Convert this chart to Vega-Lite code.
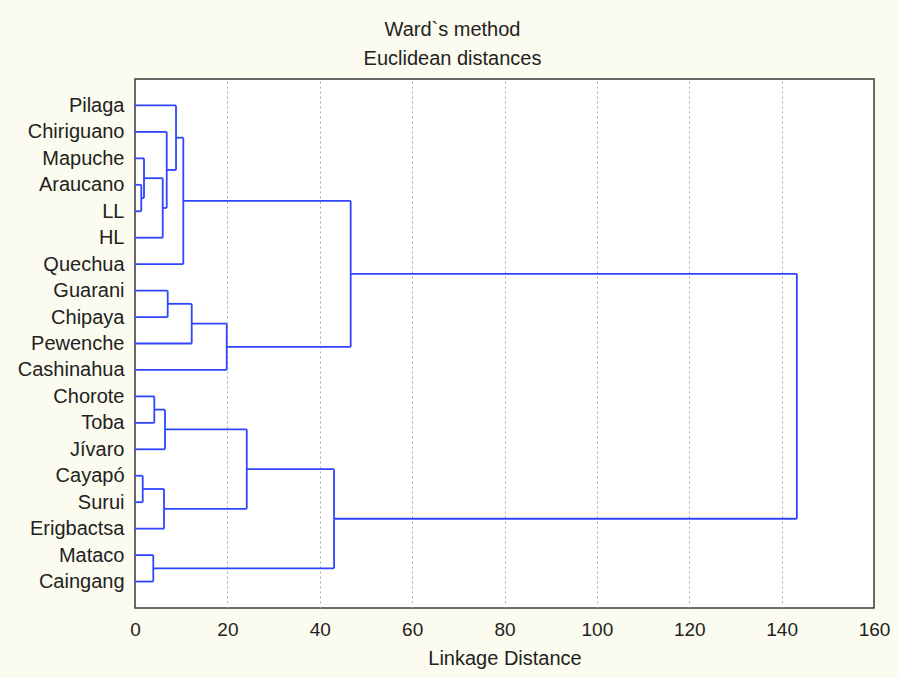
{
  "$schema": "https://vega.github.io/schema/vega-lite/v6.json",
  "autosize": {"type": "none"},
  "padding": {"left": 135, "top": 79, "right": 25, "bottom": 70},
  "width": 739,
  "height": 529,
  "background": "#fcfbef",
  "title": {
    "text": ["Ward`s method", "Euclidean distances"],
    "font": "Liberation Sans",
    "fontSize": 20,
    "fontWeight": "normal",
    "color": "#222222",
    "lineHeight": 29,
    "anchor": "middle",
    "dx": -52,
    "offset": 10
  },
  "data": {
    "values": [
      {"node": "A", "h": 1.36, "h1": 0, "p1": 3, "h2": 0, "p2": 4},
      {"node": "B", "h": 1.95, "h1": 0, "p1": 2, "h2": 1.36, "p2": 3.5},
      {"node": "C", "h": 6.0, "h1": 1.95, "p1": 2.75, "h2": 0, "p2": 5},
      {"node": "D", "h": 6.87, "h1": 0, "p1": 1, "h2": 6.0, "p2": 3.875},
      {"node": "E", "h": 8.88, "h1": 0, "p1": 0, "h2": 6.87, "p2": 2.4375},
      {"node": "F", "h": 10.46, "h1": 8.88, "p1": 1.21875, "h2": 0, "p2": 6},
      {"node": "G", "h": 7.08, "h1": 0, "p1": 7, "h2": 0, "p2": 8},
      {"node": "H", "h": 12.28, "h1": 7.08, "p1": 7.5, "h2": 0, "p2": 9},
      {"node": "I", "h": 19.86, "h1": 12.28, "p1": 8.25, "h2": 0, "p2": 10},
      {"node": "J", "h": 46.7, "h1": 10.46, "p1": 3.609375, "h2": 19.86, "p2": 9.125},
      {"node": "K", "h": 4.18, "h1": 0, "p1": 11, "h2": 0, "p2": 12},
      {"node": "L", "h": 6.5, "h1": 4.18, "p1": 11.5, "h2": 0, "p2": 13},
      {"node": "M", "h": 1.67, "h1": 0, "p1": 14, "h2": 0, "p2": 15},
      {"node": "N", "h": 6.28, "h1": 1.67, "p1": 14.5, "h2": 0, "p2": 16},
      {"node": "O", "h": 24.2, "h1": 6.5, "p1": 12.25, "h2": 6.28, "p2": 15.25},
      {"node": "P", "h": 3.96, "h1": 0, "p1": 17, "h2": 0, "p2": 18},
      {"node": "Q", "h": 43.1, "h1": 24.2, "p1": 13.75, "h2": 3.96, "p2": 17.5},
      {"node": "R", "h": 143.3, "h1": 46.7, "p1": 6.3671875, "h2": 43.1, "p2": 15.625}
    ]
  },
  "encoding": {
    "x": {
      "type": "quantitative",
      "scale": {"domain": [0, 160], "nice": false, "zero": false},
      "axis": {
        "title": "Linkage Distance",
        "values": [0, 20, 40, 60, 80, 100, 120, 140, 160],
        "format": "d",
        "grid": true,
        "gridDash": [2, 3],
        "gridColor": "#a8a8a8",
        "gridWidth": 1,
        "gridOpacity": {"condition": {"test": "datum.value == 0 || datum.value == 160", "value": 0}, "value": 1},
        "domain": false,
        "ticks": false,
        "labelFlush": false,
        "labelPadding": 12,
        "labelFont": "Liberation Sans",
        "labelFontSize": 19,
        "labelColor": "#222222",
        "titleFont": "Liberation Sans",
        "titleFontSize": 20,
        "titleFontWeight": "normal",
        "titleColor": "#222222",
        "titlePadding": 9
      }
    },
    "y": {
      "type": "quantitative",
      "scale": {"domain": [-1, 19], "nice": false, "zero": false, "reverse": true},
      "axis": {
        "title": null,
        "values": [0, 1, 2, 3, 4, 5, 6, 7, 8, 9, 10, 11, 12, 13, 14, 15, 16, 17, 18],
        "labelExpr": "['Pilaga','Chiriguano','Mapuche','Araucano','LL','HL','Quechua','Guarani','Chipaya','Pewenche','Cashinahua','Chorote','Toba','Jívaro','Cayapó','Surui','Erigbactsa','Mataco','Caingang'][datum.value]",
        "grid": false,
        "domain": false,
        "ticks": false,
        "labelPadding": 11,
        "labelFont": "Liberation Sans",
        "labelFontSize": 20,
        "labelColor": "#222222"
      }
    }
  },
  "layer": [
    {
      "mark": {"type": "rule", "color": "#2f45ff", "strokeWidth": 1.8},
      "encoding": {
        "x": {"field": "h"},
        "y": {"field": "p1"},
        "y2": {"field": "p2"}
      }
    },
    {
      "mark": {"type": "rule", "color": "#2f45ff", "strokeWidth": 1.8},
      "encoding": {
        "x": {"field": "h1"},
        "x2": {"field": "h"},
        "y": {"field": "p1"}
      }
    },
    {
      "mark": {"type": "rule", "color": "#2f45ff", "strokeWidth": 1.8},
      "encoding": {
        "x": {"field": "h2"},
        "x2": {"field": "h"},
        "y": {"field": "p2"}
      }
    }
  ],
  "config": {
    "view": {"stroke": "#3a3a3a", "strokeWidth": 1.5, "fill": "#ffffff"}
  }
}
